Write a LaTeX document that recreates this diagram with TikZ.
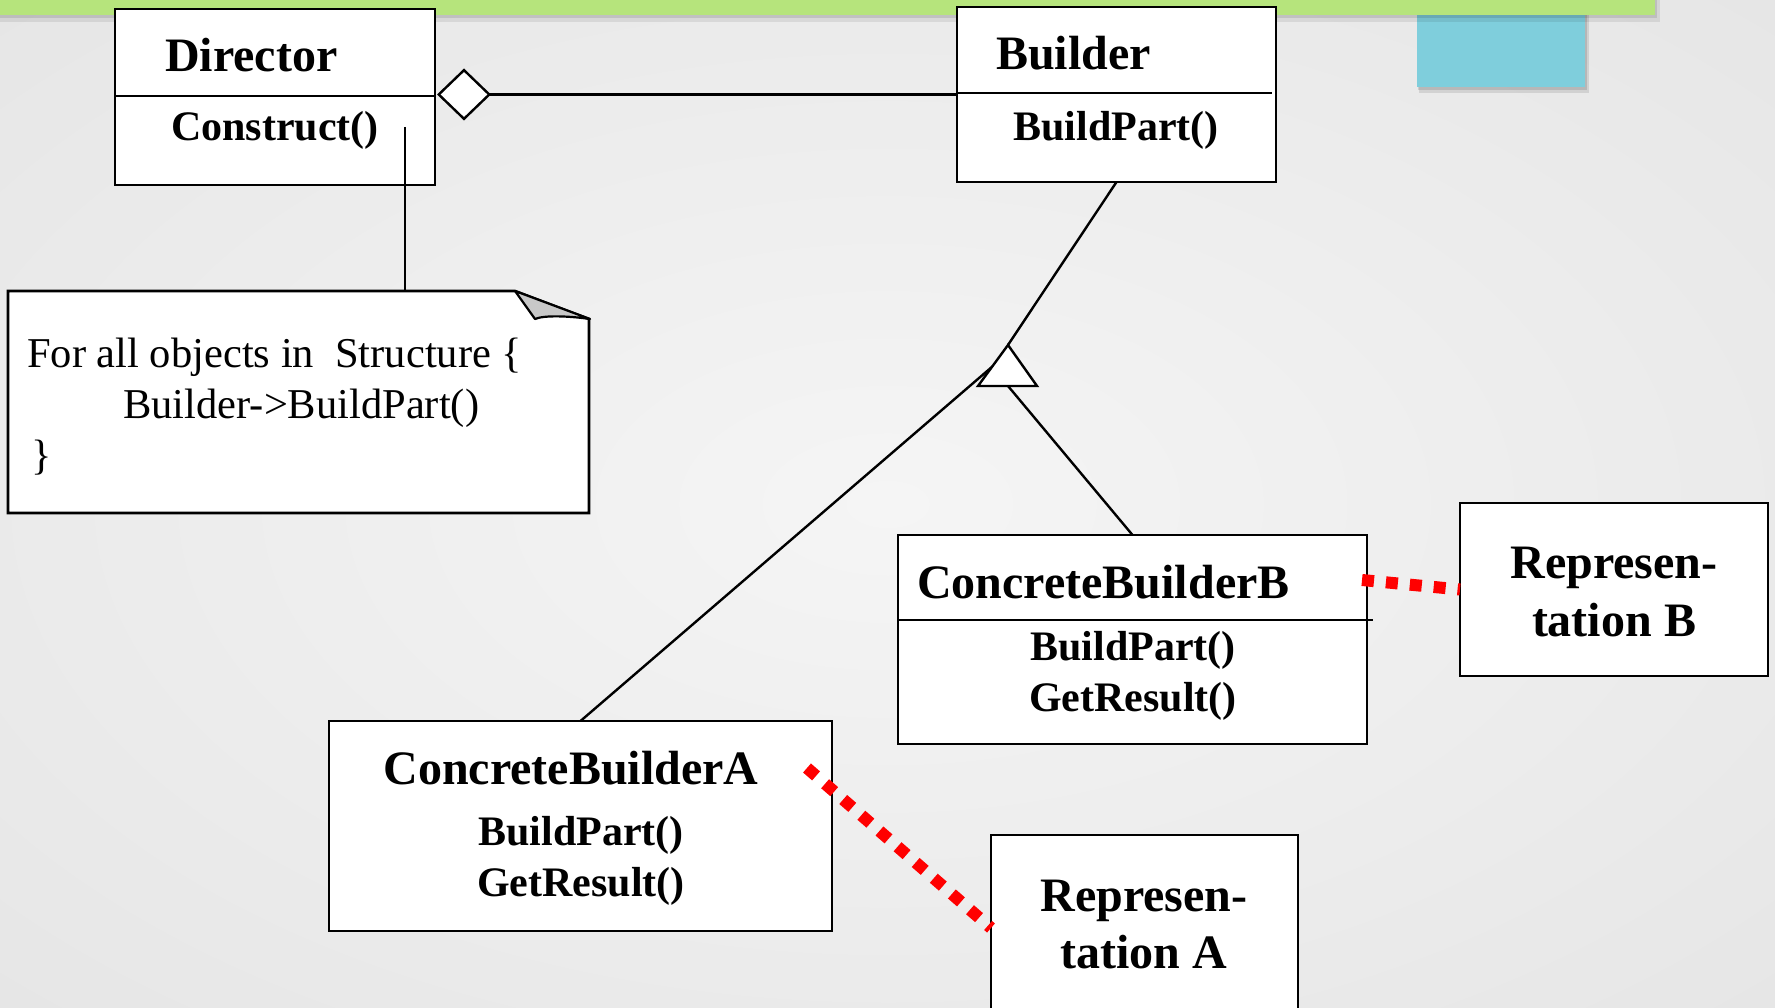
\documentclass[tikz,border=0pt]{standalone}
\usepackage{fontspec}
\setmainfont{Liberation Serif}
\usetikzlibrary{arrows.meta,calc}

\definecolor{bginner}{RGB}{245,245,245}
\definecolor{bgmid}{RGB}{228,228,228}
\definecolor{bgouter}{RGB}{214,214,214}
\definecolor{topgreen}{RGB}{182,228,124}
\definecolor{tealbox}{RGB}{127,206,220}
\definecolor{foldgray}{RGB}{200,200,200}

\pgfdeclareradialshading{slideglow}{\pgfpoint{0bp}{0bp}}{%
  color(0bp)=(bginner); color(40bp)=(bgmid); color(71bp)=(bgouter)}

\begin{document}
\begin{tikzpicture}[x=1pt,y=-1pt,
  umlbox/.style={draw=black, line width=2.6pt, fill=white, inner sep=0pt,
                 outer sep=0pt, anchor=north west},
  divider/.style={line width=2.6pt},
  title/.style={font=\fontsize{48}{54}\selectfont\bfseries, inner sep=0pt},
  meth/.style={font=\fontsize{42}{48}\selectfont\bfseries, inner sep=0pt, anchor=base},
  notetext/.style={font=\fontsize{42.5}{48}\selectfont, inner sep=0pt, anchor=base west},
  link/.style={line width=2.4pt, draw=black},
  reddots/.style={draw=red, line width=12pt, dash pattern=on 12pt off 12pt},
]
% slide background
\shade[shading=slideglow] (0,0) rectangle (1775,1008);
\useasboundingbox (0,0) rectangle (1775,1008);

% decorative slide bars with soft shadows
\fill[black, opacity=0.10] (1419,0) rectangle (1589,93);
\fill[black, opacity=0.12] (1418,0) rectangle (1587,90);
\fill[tealbox] (1417,0) rectangle (1585,87);
\fill[black, opacity=0.08] (0,0) rectangle (1660,22);
\fill[black, opacity=0.10] (0,0) rectangle (1657,18);
\fill[topgreen] (0,0) rectangle (1655,15);

% class boxes
\node[umlbox, minimum width=320pt, minimum height=176pt] (director) at (115,9) {};
\draw[divider] ([yshift=-87pt]director.north west) -- ([yshift=-87pt]director.north east);
\node[umlbox, minimum width=319pt, minimum height=175pt] (builder) at (957,7) {};
\draw[divider] ([yshift=-86pt]builder.north west) -- ([yshift=-86pt,xshift=-4pt]builder.north east);
\node[umlbox, minimum width=469pt, minimum height=209pt] (cbb) at (898,535) {};
\draw[divider] ([yshift=-85pt]cbb.north west) -- ([yshift=-85pt,xshift=6pt]cbb.north east);
\node[umlbox, minimum width=503pt, minimum height=210pt] (cba) at (329,721) {};
\node[umlbox, minimum width=308pt, minimum height=173pt] (repB) at (1460,503) {};
\node[umlbox, minimum width=307pt, minimum height=210pt] (repA) at (991,835) {};

% note with folded corner
\node[inner sep=0pt, outer sep=0pt, anchor=north west,
      minimum width=581pt, minimum height=222pt] (note) at (8,291) {};
\draw[line width=2.6pt, fill=white, line join=miter]
  (note.south west) -- (note.north west) -- ([xshift=-74pt]note.north east)
  -- ([yshift=-28pt]note.north east) -- (note.south east) -- cycle;
\draw[line width=2.2pt, fill=foldgray, line join=round]
  ([xshift=-74pt]note.north east) -- ([xshift=1pt,yshift=-28pt]note.north east)
  .. controls ([xshift=-20pt,yshift=-25pt]note.north east) and ([xshift=-45pt,yshift=-24pt]note.north east)
  .. ([xshift=-54pt,yshift=-28pt]note.north east) -- cycle;

% connectors
\coordinate (constructTail) at (405,127);
\draw[link] (constructTail) -- (constructTail |- note.north);
\draw[link, -{Diamond[fill=white, length=54pt, width=52pt]}]
  (builder.west) -- ([xshift=2pt]builder.west -| director.east);

\coordinate (genTop) at (1008,345);
\coordinate (genL) at (978,386);
\coordinate (genR) at (1037,386);
\coordinate (genBase) at (1008,386);
\coordinate (genSide) at (993,366);
\draw[link] (builder.south) -- (genTop);
\draw[link] (genBase) -- (cbb.north);
\draw[link] (cba.north) -- (genSide);
\draw[link, fill=white, line join=miter] (genTop) -- (genR) -- (genL) -- cycle;

\draw[reddots] ([xshift=-5pt,yshift=59.5pt]cbb.east) -- (repB.west);
\draw[reddots] ([xshift=-25pt,yshift=-47pt]cba.north east) -- ([yshift=12pt]repA.west);

% texts
\node[title, anchor=base west] (directorT) at (165,72) {Director};
\node[meth] (directorM) at (275,141) {Construct()};
\node[title, anchor=base west] (builderT) at (996,70) {Builder};
\node[meth] (builderM) at (1116,141) {BuildPart()};
\node[title, anchor=base west] (cbbT) at (917,598) {ConcreteBuilderB};
\node[meth] (cbbM1) at (1133,660) {BuildPart()};
\node[meth] (cbbM2) at (1133,711) {GetResult()};
\node[title, anchor=base] (cbaT) at (571,784) {ConcreteBuilderA};
\node[meth] (cbaM1) at (581,845) {BuildPart()};
\node[meth] (cbaM2) at (581,896) {GetResult()};
\node[title, anchor=base] (repBT1) at (1614,578) {Represen-};
\node[title, anchor=base] (repBT2) at (1614,636) {tation B};
\node[title, anchor=base] (repAT1) at (1144,911) {Represen-};
\node[title, anchor=base] (repAT2) at (1144,968) {tation A};
\node[notetext] (noteL1) at (27,367) {For all objects in\ \ Structure \{};
\node[notetext] (noteL2) at (123,418) {Builder->BuildPart()};
\node[notetext] (noteL3) at (31,469) {\}};
\end{tikzpicture}
\end{document}
